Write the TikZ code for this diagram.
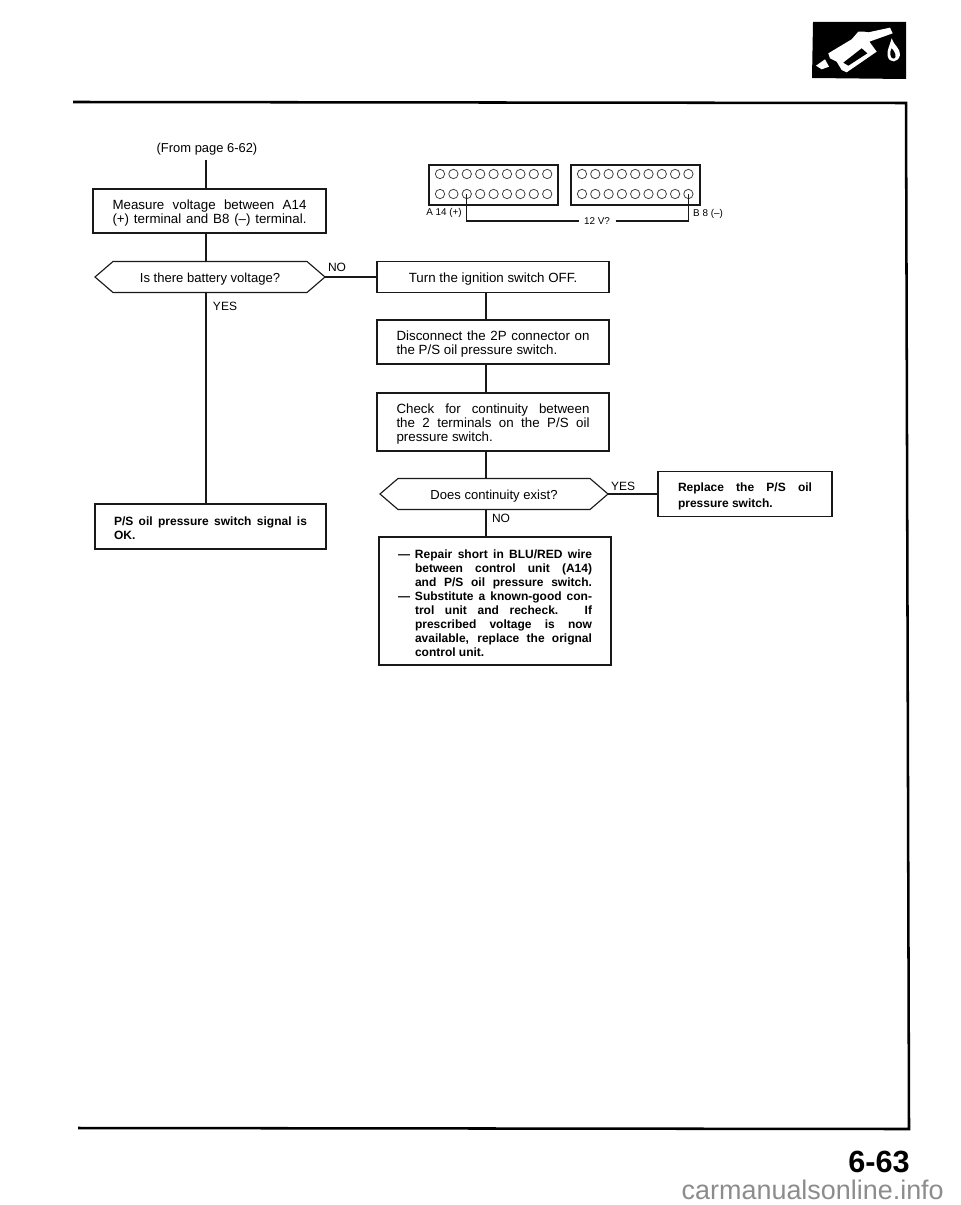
\documentclass[tikz,border=0pt]{standalone}
\usepackage{fontspec}
\setmainfont{Liberation Sans}
\usetikzlibrary{calc}
\newcommand\pw[1]{\dimexpr 0.75pt*#1\relax}
\newcommand\dn{\rule{0pt}{9.6pt}}
\newcommand\jl[2]{\makebox[\pw{#1}][s]{#2}}
\newcommand\lft[2]{\makebox[\pw{#1}][l]{#2}}
\newcommand\hexpath[1]{\draw[ln] (#1.west) -- ([xshift=13.5pt]#1.north west) -- ([xshift=-13.5pt]#1.north east) -- (#1.east) -- ([xshift=-13.5pt]#1.south east) -- ([xshift=13.5pt]#1.south west) -- cycle;}
\tikzset{
  ln/.style={draw=black!90,line width=0.85pt},
  bx/.style={draw=black!90,line width=0.85pt,inner sep=0pt,outer sep=0pt,align=left,font=\fontsize{10}{10.5}\selectfont},
  bbx/.style={bx,font=\fontsize{9}{10.5}\bfseries\selectfont},
  hx/.style={inner sep=0pt,outer sep=0pt,font=\fontsize{9.8}{10.5}\selectfont},
  lab/.style={inner sep=0pt,font=\fontsize{9}{10}\selectfont},
  tiny/.style={inner sep=0pt,font=\fontsize{7.4}{8}\selectfont},
  pin/.style={circle,draw=black!75,line width=0.6pt,minimum size=7pt,inner sep=0pt,outer sep=0pt},
  frame/.style={draw=black,line width=1.9pt},
  conn/.style={draw=black!90,line width=0.85pt,minimum width=96.75pt,minimum height=30pt,inner sep=0pt,outer sep=0pt}
}
\begin{document}
\begin{tikzpicture}[x=0.75pt,y=-0.75pt]
\useasboundingbox (0,0) rectangle (960,1205);
% frame
\coordinate (f1) at (73,102); \coordinate (f2) at (906,103); \coordinate (f3) at (909,1129); \coordinate (f4) at (78,1128);
\draw[frame] (f1) -- (f2) -- (f3) -- (f4);
% icon
\fill[black] (813,22) -- (906,22) -- (906,79) -- (812,78) -- cycle;
\begin{scope}[shift={(780,0)},x=0.25pt,y=-0.25pt]
\fill[white] (145,160) -- (215,118) -- (235,95) -- (252,95) -- (265,97) -- (330,83) -- (338,100) -- (268,125) -- (290,155) -- (200,217) -- (185,210) -- (170,185) -- (150,175) -- cycle;
\fill[black] (190,188) -- (245,145) -- (262,160) -- (205,197) -- cycle;
\fill[white] (108,197) -- (135,178) -- (147,200) -- (125,208) -- cycle;
\fill[white] (335,115) .. controls (330,135) and (320,150) .. (323,168) .. controls (327,190) and (355,190) .. (360,165) .. controls (362,145) and (340,135) .. (335,115) -- cycle;
\fill[black] (335,145) .. controls (328,155) and (330,178) .. (342,176) .. controls (352,172) and (345,155) .. (335,145) -- cycle;
\end{scope}
% connectors
\node[lab,font=\fontsize{9.7}{10}\selectfont] (from) at (207,149) {(From page 6-62)};
\node[conn] (ca) at (493.5,185) {};
\node[conn] (cb) at (635.5,185) {};
\foreach \i in {0,...,8}{
  \node[pin] (at\i) at ({440+13.4*\i},174) {};
  \node[pin] (ab\i) at ({440+13.4*\i},194) {};
  \node[pin] (bt\i) at ({582+13.3*\i},174) {};
  \node[pin] (bb\i) at ({582+13.3*\i},194) {};
}
\node[tiny] (vv) at (597,221) {12 V?};
\node[tiny] (al) at (444,212.5) {A 14 (+)};
\node[tiny] (bl) at (708,213.5) {B 8 (--)};
\draw[ln] (ab2.center) -- (ab2.center |- vv.west) -- ([xshift=-4pt]vv.west);
\draw[ln] ([xshift=4pt]vv.east) -- (bb8.center |- vv.east) -- (bb8.center);
% boxes
\coordinate (cl) at (206,160);
\coordinate (cr) at (486,250);
\node[bx,minimum width=174.75pt,minimum height=33pt] (m) at (209.5,211) {\dn\jl{194}{Measure voltage between A14}\\\jl{194}{(+) terminal and B8 (--) terminal.}};
\node[hx,minimum width=172.5pt,minimum height=23.25pt] (h1) at (210,277) {\dn Is there battery voltage?};
\hexpath{h1}
\node[bbx,minimum width=173.25pt,minimum height=33.75pt] (ok) at (210.5,526.5) {\dn\jl{193}{P/S oil pressure switch signal is}\\\lft{193}{OK.}};
\node[bx,minimum width=174pt,minimum height=23.25pt,align=center] (t) at (493,277) {\dn Turn the ignition switch OFF.};
\node[bx,minimum width=174pt,minimum height=33pt] (d) at (493,342) {\dn\jl{193}{Disconnect the 2P connector on}\\\lft{193}{the P/S oil pressure switch.}};
\node[bx,minimum width=174pt,minimum height=43.5pt] (c) at (493,422) {\dn\jl{193}{Check for continuity between}\\\jl{193}{the 2 terminals on the P/S oil}\\\lft{193}{pressure switch.}};
\node[hx,minimum width=171pt,minimum height=23.25pt] (h2) at (494,494) {\dn Does continuity exist?};
\hexpath{h2}
\node[bbx,minimum width=130.5pt,minimum height=33.75pt,font=\fontsize{9}{12}\bfseries\selectfont] (r) at (745,494) {\dn\jl{134}{Replace the P/S oil}\\\lft{134}{pressure switch.}};
\node[bbx,minimum width=174pt,minimum height=96pt] (rp) at (495,601) {%
\dn\lft{17}{---}\jl{177}{Repair short in BLU/RED wire}\\
\hspace*{\pw{17}}\jl{177}{between control unit (A14)}\\
\hspace*{\pw{17}}\jl{177}{and P/S oil pressure switch.}\\
\lft{17}{---}\jl{177}{Substitute a known-good con-}\\
\hspace*{\pw{17}}\jl{177}{trol unit and recheck. If}\\
\hspace*{\pw{17}}\jl{177}{prescribed voltage is now}\\
\hspace*{\pw{17}}\jl{177}{available, replace the orignal}\\
\hspace*{\pw{17}}\lft{177}{control unit.}};
% flow lines
\draw[ln] (cl) -- (cl |- m.north);
\draw[ln] (cl |- m.south) -- (cl |- h1.north);
\draw[ln] (cl |- h1.south) -- (cl |- ok.north);
\draw[ln] (h1.east) -- (t.west);
\draw[ln] (cr |- t.south) -- (cr |- d.north);
\draw[ln] (cr |- d.south) -- (cr |- c.north);
\draw[ln] (cr |- c.south) -- (cr |- h2.north);
\draw[ln] (cr |- h2.south) -- (cr |- rp.north);
\draw[ln] (h2.east) -- (r.west);
% labels
\node[lab] (no1) at (337,267) {NO};
\node[lab] (yes1) at (225,306) {YES};
\node[lab] (yes2) at (623,486) {YES};
\node[lab] (no2) at (501,518) {NO};
% page
\node[inner sep=0pt,font=\fontsize{23}{26}\bfseries\selectfont] (pg) at (879,1162) {6-63};
\node[anchor=east,inner sep=0pt,text=black!45,font=\fontsize{20.2}{22}\selectfont] (wm) at (944,1190) {carmanualsonline.info};
\end{tikzpicture}
\end{document}
